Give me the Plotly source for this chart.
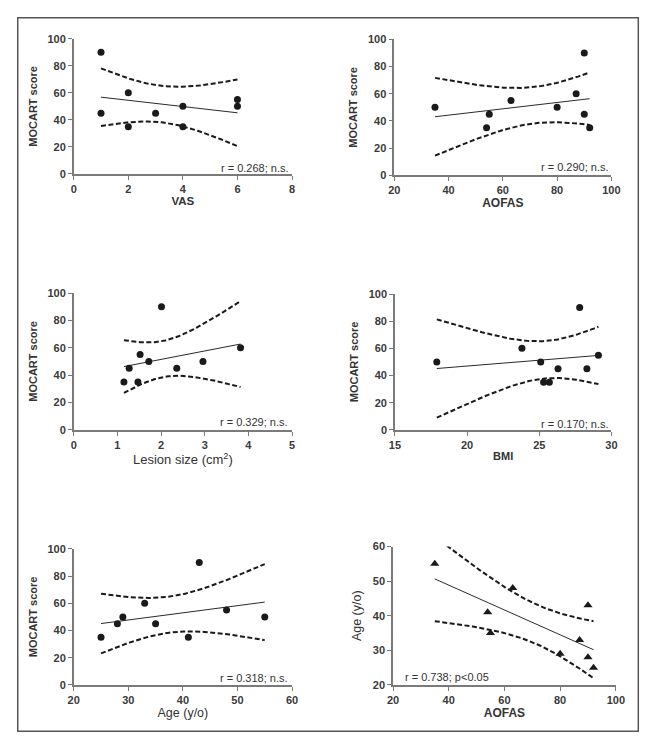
import numpy as np
import plotly.graph_objects as go

W, H = 660, 751

# ---- data ----
vas = [1, 1, 2, 2, 3, 4, 4, 6, 6]
mocart_vas = [90, 45, 60, 35, 45, 50, 35, 55, 50]

aofas = [35, 54, 55, 63, 80, 87, 90, 90, 92]
mocart_aofas = [50, 35, 45, 55, 50, 60, 90, 45, 35]

lesion = [1.15, 1.27, 1.47, 1.52, 1.72, 2.01, 2.36, 2.96, 3.82]
mocart_lesion = [35, 45, 35, 55, 50, 90, 45, 50, 60]

bmi = [17.9, 23.8, 25.1, 25.3, 25.7, 26.3, 27.8, 28.3, 29.1]
mocart_bmi = [50, 60, 50, 35, 35, 45, 90, 45, 55]

age = [25, 28, 29, 33, 35, 41, 43, 48, 55]
mocart_age = [35, 45, 50, 60, 45, 35, 90, 55, 50]

age_aofas = [55, 41, 35, 48, 29, 33, 43, 28, 25]

stat_labels = ["r = 0.268; n.s.", "r = 0.290; n.s.", "r = 0.329; n.s.",
               "r = 0.170; n.s.", "r = 0.318; n.s.", "r = 0.738; p<0.05"]

T_CRIT_DF7 = 2.365  # two-sided 95% t value, n-2 = 7


def fit_band(x, y, n_pts=80):
    x = np.asarray(x, float)
    y = np.asarray(y, float)
    n = len(x)
    xm, ym = x.mean(), y.mean()
    sxx = ((x - xm) ** 2).sum()
    slope = ((x - xm) * (y - ym)).sum() / sxx
    icpt = ym - slope * xm
    s = np.sqrt(((y - (icpt + slope * x)) ** 2).sum() / (n - 2))
    xs = np.linspace(x.min(), x.max(), n_pts)
    yh = icpt + slope * xs
    se = s * np.sqrt(1.0 / n + (xs - xm) ** 2 / sxx)
    return xs, yh, yh + T_CRIT_DF7 * se, yh - T_CRIT_DF7 * se


B, R = "bold", "normal"
panels = [
    dict(x=vas, y=mocart_vas, xt="VAS", yt="MOCART score", xr=[0, 8], xd=2,
         yr=[0, 100], yd=20, px=(69.3, 292.7), py=(33.3, 170.7), sym="circle",
         ann=dict(x=291.5, y=165, anchor="right"), xf=(11.5, B), yf=(11, B)),
    dict(x=aofas, y=mocart_aofas, xt="AOFAS", yt="MOCART score", xr=[20, 100], xd=20,
         yr=[0, 100], yd=20, px=(397.3, 619.5), py=(34, 172), sym="circle",
         ann=dict(x=619.5, y=164, anchor="right"), xf=(12, B), yf=(11, B)),
    dict(x=lesion, y=mocart_lesion, xt="Lesion size (cm<sup>2</sup>)", yt="MOCART score",
         xr=[0, 5], xd=1, yr=[0, 100], yd=20, px=(69.3, 292.7), py=(291.7, 430.7),
         sym="circle", ann=dict(x=290.7, y=422.7, anchor="right"),
         xf=(13, R), yf=(11, B)),
    dict(x=bmi, y=mocart_bmi, xt="BMI", yt="MOCART score", xr=[15, 30], xd=5,
         yr=[0, 100], yd=20, px=(398, 619.5), py=(292.7, 430.7), sym="circle",
         ann=dict(x=619.3, y=424.3, anchor="right"), xf=(11, B), yf=(11, B)),
    dict(x=age, y=mocart_age, xt="Age (y/o)", yt="MOCART score", xr=[20, 60], xd=10,
         yr=[0, 100], yd=20, px=(69.3, 292.7), py=(551.7, 690), sym="circle",
         ann=dict(x=290.7, y=683.3, anchor="right"), xf=(12.5, R), yf=(11, B)),
    dict(x=aofas, y=age_aofas, xt="AOFAS", yt="Age (y/o)", xr=[20, 100], xd=20,
         yr=[20, 60], yd=10, px=(396, 624), py=(549.3, 690), sym="triangle-up",
         ann=dict(x=406, y=681.7, anchor="left"), xf=(12, B), yf=(12.5, R)),
]

FONT = "Liberation Sans, Arial, sans-serif"
TXT = "#333333"
AX = "#7a7a7a"
INK = "#1a1a1a"

fig = go.Figure()
layout = dict(width=W, height=H, margin=dict(l=0, r=0, t=0, b=0),
              paper_bgcolor="white", plot_bgcolor="white", showlegend=False,
              font=dict(family=FONT, color=TXT), annotations=[], shapes=[])

for i, p in enumerate(panels):
    k = "" if i == 0 else str(i + 1)
    xs, yh, up, lo = fit_band(p["x"], p["y"])
    xa, ya = "x" + k, "y" + k
    for band in (up, lo):
        fig.add_trace(go.Scatter(x=xs, y=band, mode="lines", xaxis=xa, yaxis=ya,
                                 line=dict(color=INK, width=2, dash="5px,2.5px"),
                                 hoverinfo="skip"))
    fig.add_trace(go.Scatter(x=xs, y=yh, mode="lines", xaxis=xa, yaxis=ya,
                             line=dict(color="#2a2a2a", width=1), hoverinfo="skip"))
    msize = 8 if p["sym"] == "triangle-up" else 7
    fig.add_trace(go.Scatter(x=p["x"], y=p["y"], mode="markers", xaxis=xa, yaxis=ya,
                             marker=dict(symbol=p["sym"], size=msize, color=INK),
                             cliponaxis=False))

    common = dict(showline=True, linecolor=AX, linewidth=1.5, ticks="outside",
                  ticklen=4, tickwidth=1.3, tickcolor=AX, showgrid=False,
                  zeroline=False,
                  tickfont=dict(size=11, color="#3a3a3a", family=FONT, weight="bold"))
    layout["xaxis" + k] = dict(common, domain=[p["px"][0] / W, p["px"][1] / W],
                               range=p["xr"], dtick=p["xd"], tick0=p["xr"][0],
                               anchor=ya,
                               title=dict(text=p["xt"], standoff=3,
                                          font=dict(size=p["xf"][0], color=TXT,
                                                    weight=p["xf"][1])))
    layout["yaxis" + k] = dict(common, domain=[1 - p["py"][1] / H, 1 - p["py"][0] / H],
                               range=p["yr"], dtick=p["yd"], tick0=p["yr"][0],
                               anchor=xa,
                               title=dict(text=p["yt"], standoff=8,
                                          font=dict(size=p["yf"][0], color=TXT,
                                                    weight=p["yf"][1])))
    a = p["ann"]
    layout["annotations"].append(dict(
        x=a["x"] / W, y=1 - a["y"] / H, xref="paper", yref="paper",
        xanchor=a["anchor"], yanchor="middle", showarrow=False,
        text=stat_labels[i], font=dict(size=11, color=TXT, family=FONT)))

layout["shapes"].append(dict(type="rect", xref="paper", yref="paper",
                             x0=12 / W, x1=647 / W, y0=1 - 737 / H, y1=1 - 12 / H,
                             line=dict(color="#555555", width=1.5)))

fig.update_layout(**layout)
fig.write_html("out.html", config={"displayModeBar": False},
               post_script="document.body.style.margin='0';"
                           "document.body.style.overflow='hidden';")
